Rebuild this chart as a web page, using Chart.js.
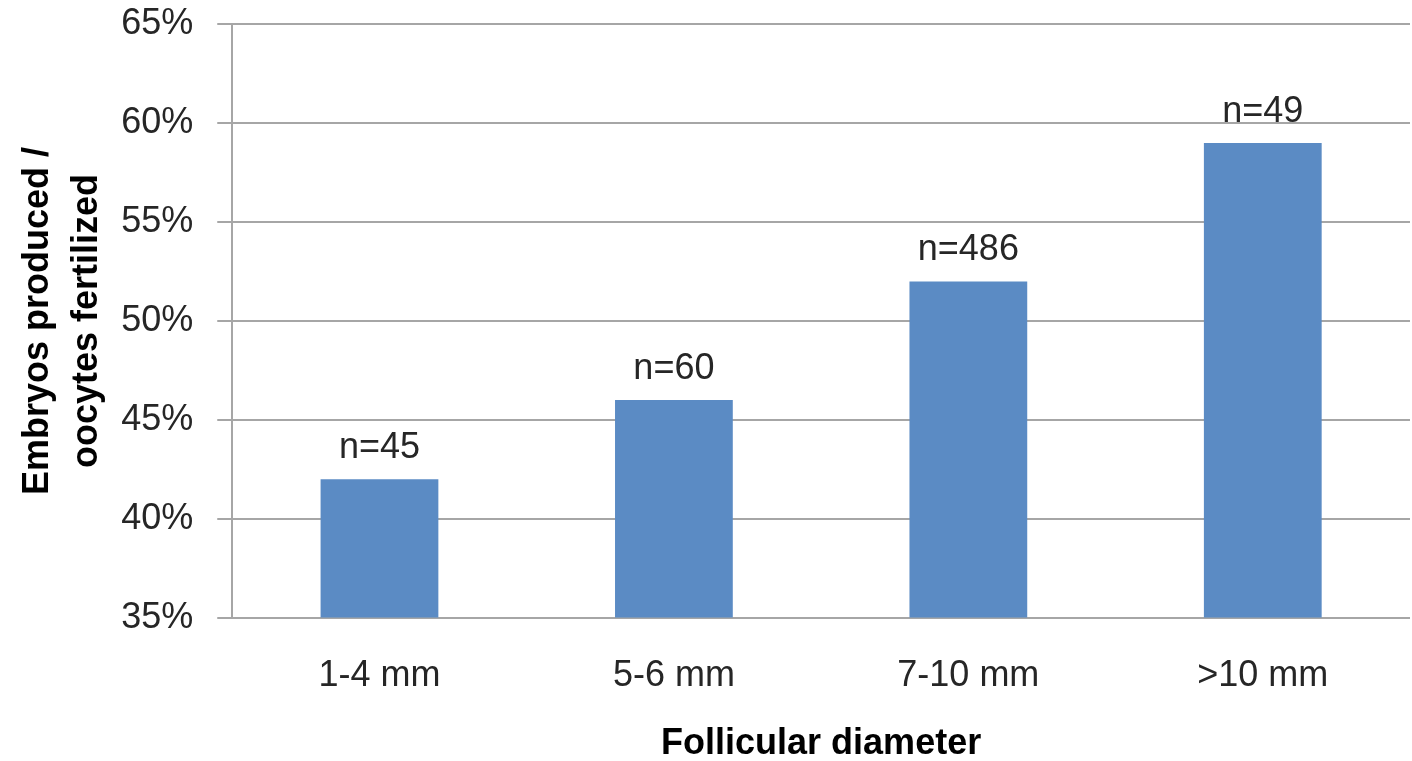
<!DOCTYPE html>
<html>
<head>
<meta charset="utf-8">
<script src="https://cdn.jsdelivr.net/npm/chart.js@4"></script>
<style>
  html, body { margin: 0; padding: 0; background: #ffffff; }
  #wrap { width: 1412px; height: 761px; }
</style>
</head>
<body>
<div id="wrap"><canvas id="chart" width="1412" height="761"></canvas></div>
<script>
// dados do gráfico
const categories = ["1-4 mm", "5-6 mm", "7-10 mm", ">10 mm"];
const rates = [42, 46, 52, 59];
const counts = ["n=45", "n=60", "n=486", "n=49"];

const barColor = '#5b8bc4';
const gridColor = '#a6a6a6';
const fontName = "'Liberation Sans', Arial, sans-serif";

// rótulos "n=" acima das barras
const countLabels = {
    id: 'countLabels',
    afterDatasetsDraw(chart) {
        const ctx = chart.ctx;
        const meta = chart.getDatasetMeta(0);
        ctx.save();
        ctx.font = '36px ' + fontName;
        ctx.fillStyle = '#262626';
        ctx.textAlign = 'center';
        ctx.textBaseline = 'middle';
        meta.data.forEach(function (bar, i) {
            ctx.fillText(counts[i], bar.x, bar.y - 31);
        });
        ctx.restore();
    }
};

new Chart(document.getElementById('chart').getContext('2d'), {
    type: 'bar',
    data: {
        labels: categories,
        datasets: [{
            data: rates,
            backgroundColor: barColor,
            borderWidth: 0,
            categoryPercentage: 1,
            barPercentage: 0.4,
        }],
    },
    options: {
        responsive: false,
        animation: false,
        layout: { padding: { top: 0, right: 2, left: 14, bottom: -5 } },
        plugins: {
            legend: { display: false },
            tooltip: { enabled: false },
        },
        scales: {
            x: {
                grid: { display: false, drawTicks: false },
                border: { display: false },
                ticks: {
                    color: '#262626',
                    padding: 37,
                    font: { family: fontName, size: 36 },
                },
                title: {
                    display: true,
                    text: 'Follicular diameter',
                    color: '#000000',
                    padding: { top: -12, bottom: 0 },
                    font: { family: fontName, size: 36, weight: 'bold' },
                },
            },
            y: {
                min: 35,
                max: 65,
                ticks: {
                    stepSize: 5,
                    padding: 24,
                    color: '#262626',
                    font: { family: fontName, size: 36, lineHeight: 0.02 },
                    callback: function (v) { return v + '%'; },
                },
                grid: { color: gridColor, lineWidth: 2, tickLength: 15 },
                border: { color: gridColor, width: 2 },
                title: {
                    display: true,
                    text: ['Embryos produced /', 'oocytes fertilized'],
                    color: '#000000',
                    padding: { top: 0, bottom: -14 },
                    font: { family: fontName, size: 36, weight: 'bold', lineHeight: 1.35 },
                },
            },
        },
    },
    plugins: [countLabels],
});
</script>
</body>
</html>
